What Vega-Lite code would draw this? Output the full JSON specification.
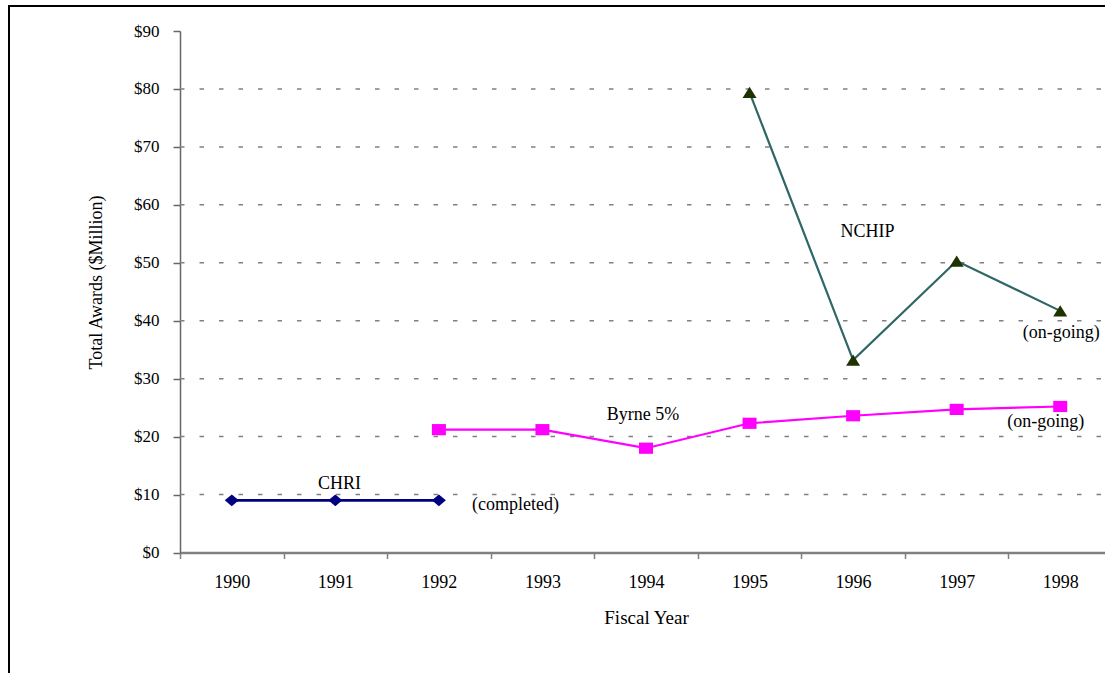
{
  "$schema": "https://vega.github.io/schema/vega-lite/v6.json",
  "width": 1107,
  "height": 678,
  "autosize": {"type": "none"},
  "padding": {"left": 9, "top": 6, "right": -11, "bottom": -11},
  "background": "white",
  "config": {
    "view": {"stroke": "black", "strokeWidth": 2},
    "font": "Liberation Serif",
    "text": {"font": "Liberation Serif"}
  },
  "datasets": {
    "awards": [
      {"series": "CHRI", "year": 1990, "value": 9.0},
      {"series": "CHRI", "year": 1991, "value": 9.0},
      {"series": "CHRI", "year": 1992, "value": 9.0},
      {"series": "Byrne 5%", "year": 1992, "value": 21.2},
      {"series": "Byrne 5%", "year": 1993, "value": 21.2},
      {"series": "Byrne 5%", "year": 1994, "value": 18.0},
      {"series": "Byrne 5%", "year": 1995, "value": 22.3},
      {"series": "Byrne 5%", "year": 1996, "value": 23.6},
      {"series": "Byrne 5%", "year": 1997, "value": 24.7},
      {"series": "Byrne 5%", "year": 1998, "value": 25.2},
      {"series": "NCHIP", "year": 1995, "value": 79.4},
      {"series": "NCHIP", "year": 1996, "value": 33.2},
      {"series": "NCHIP", "year": 1997, "value": 50.3},
      {"series": "NCHIP", "year": 1998, "value": 41.7}
    ],
    "grid": [
      {"value": 10}, {"value": 20}, {"value": 30}, {"value": 40},
      {"value": 50}, {"value": 60}, {"value": 70}, {"value": 80}
    ],
    "labels": [
      {"label": "CHRI", "year": 1991.04, "value": 10.9},
      {"label": "(completed)", "year": 1992.74, "value": 7.33},
      {"label": "Byrne 5%", "year": 1993.97, "value": 22.87},
      {"label": "(on-going)", "year": 1997.86, "value": 21.66},
      {"label": "NCHIP", "year": 1996.14, "value": 54.5},
      {"label": "(on-going)", "year": 1998.01, "value": 37.02}
    ]
  },
  "layer": [
    {
      "data": {"name": "grid"},
      "mark": {"type": "rule", "color": "#808080", "strokeWidth": 1.5, "strokeDash": [4.5, 15]},
      "encoding": {
        "x": {
          "datum": 1989.5,
          "type": "quantitative",
          "scale": {"domain": [1989.5, 1998.5], "range": [171, 1103], "nice": false, "zero": false},
          "axis": {
            "orient": "bottom",
            "offset": -131.5,
            "title": "Fiscal Year",
            "titleFont": "Liberation Serif",
            "titleFontSize": 19,
            "titleFontWeight": "normal",
            "titleColor": "black",
            "titleX": 637,
            "titleY": 70.5,
            "titleBaseline": "alphabetic",
            "titleAlign": "center",
            "values": [1989.5, 1990.5, 1991.5, 1992.5, 1993.5, 1994.5, 1995.5, 1996.5, 1997.5, 1998.5],
            "labelExpr": "datum.value < 1998 ? format(datum.value + 0.5, 'd') : ''",
            "labelOffset": 51.75,
            "labelFont": "Liberation Serif",
            "labelFontSize": 18,
            "labelColor": "black",
            "labelPadding": 15,
            "labelFlush": false,
            "labelOverlap": false,
            "domainColor": "#808080",
            "domainWidth": 2.5,
            "tickColor": "#808080",
            "tickWidth": 1.5,
            "tickSize": 6,
            "grid": false
          }
        },
        "x2": {"datum": 1998.5},
        "y": {
          "field": "value",
          "type": "quantitative",
          "scale": {"domain": [0, 90], "range": [546.5, 25], "nice": false, "zero": true},
          "axis": {
            "orient": "left",
            "offset": -171,
            "title": "Total Awards ($Million)",
            "titleFont": "Liberation Serif",
            "titleFontSize": 18,
            "titleFontWeight": "normal",
            "titleColor": "black",
            "titleX": -84,
            "titleY": 276,
            "titleAngle": 270,
            "titleBaseline": "middle",
            "titleAlign": "center",
            "values": [0, 10, 20, 30, 40, 50, 60, 70, 80, 90],
            "labelExpr": "'$' + datum.value",
            "labelFont": "Liberation Serif",
            "labelFontSize": 17,
            "labelColor": "black",
            "labelPadding": 14,
            "labelFlush": false,
            "labelOverlap": false,
            "domainColor": "#666666",
            "domainWidth": 1.5,
            "tickColor": "#666666",
            "tickWidth": 1.5,
            "tickSize": 7,
            "grid": false
          }
        }
      }
    },
    {
      "data": {"name": "awards"},
      "transform": [{"filter": "datum.series === 'CHRI'"}],
      "mark": {"type": "line", "color": "#000080", "strokeWidth": 2.7},
      "encoding": {
        "x": {"field": "year", "type": "quantitative"},
        "y": {"field": "value", "type": "quantitative"}
      }
    },
    {
      "data": {"name": "awards"},
      "transform": [{"filter": "datum.series === 'Byrne 5%'"}],
      "mark": {"type": "line", "color": "#FF00FF", "strokeWidth": 2.2},
      "encoding": {
        "x": {"field": "year", "type": "quantitative"},
        "y": {"field": "value", "type": "quantitative"}
      }
    },
    {
      "data": {"name": "awards"},
      "transform": [{"filter": "datum.series === 'NCHIP'"}],
      "mark": {"type": "line", "color": "#2F6666", "strokeWidth": 2.2},
      "encoding": {
        "x": {"field": "year", "type": "quantitative"},
        "y": {"field": "value", "type": "quantitative"}
      }
    },
    {
      "data": {"name": "awards"},
      "mark": {"type": "point", "filled": true, "opacity": 1, "size": 196, "strokeWidth": 0},
      "encoding": {
        "x": {"field": "year", "type": "quantitative"},
        "y": {"field": "value", "type": "quantitative"},
        "shape": {
          "field": "series",
          "type": "nominal",
          "scale": {
            "domain": ["CHRI", "Byrne 5%", "NCHIP"],
            "range": ["M0,-0.84L1,0L0,0.84L-1,0Z", "M-1,-0.8H1V0.8H-1Z", "M0,-0.8L1,0.8L-1,0.8Z"]
          },
          "legend": null
        },
        "fill": {
          "field": "series",
          "type": "nominal",
          "scale": {
            "domain": ["CHRI", "Byrne 5%", "NCHIP"],
            "range": ["#000080", "#FF00FF", "#1E3300"]
          },
          "legend": null
        }
      }
    },
    {
      "data": {"name": "labels"},
      "mark": {"type": "text", "font": "Liberation Serif", "fontSize": 18, "color": "black", "align": "center", "baseline": "alphabetic"},
      "encoding": {
        "x": {"field": "year", "type": "quantitative"},
        "y": {"field": "value", "type": "quantitative"},
        "text": {"field": "label", "type": "nominal"}
      }
    }
  ]
}
